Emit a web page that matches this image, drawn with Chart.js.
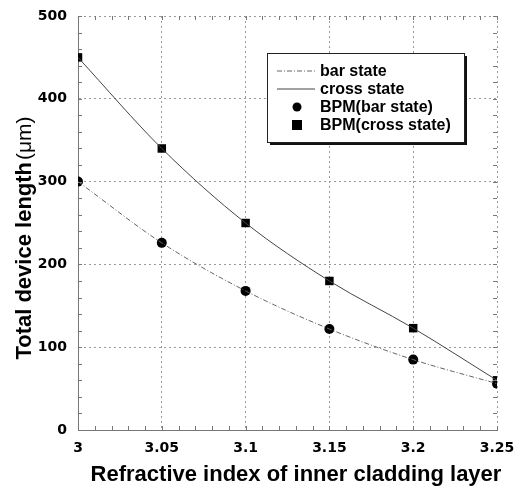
<!DOCTYPE html>
<html><head><meta charset="utf-8">
<script src="https://cdn.jsdelivr.net/npm/chart.js@4.4.0/dist/chart.umd.min.js"></script>
<style>html,body{margin:0;padding:0;background:#fff}#wrap{width:528px;height:490px}</style>
</head><body><div id="wrap"><canvas id="c" width="528" height="490"></canvas></div>
<script>
const xValues = [3, 3.05, 3.1, 3.15, 3.2, 3.25];
const barState = [300, 226, 168, 122, 85, 56];
const crossState = [450, 340, 250, 180, 123, 60];
const seriesLabels = ['bar state', 'cross state', 'BPM(bar state)', 'BPM(cross state)'];
const xTicks = [3, 3.05, 3.1, 3.15, 3.2, 3.25];
const yTicks = [0, 100, 200, 300, 400, 500];
const xTitle = 'Refractive index of inner cladding layer';
const yTitleMain = 'Total device length';
const yTitleUnit = '(μm)';

const pts = a => xValues.map((x, i) => ({x, y: a[i]}));
const FONT = 'DejaVu Sans';

const titlesPlugin = {
  id: 'titles',
  afterDraw(chart) {
    const ctx = chart.ctx;
    ctx.save();
    ctx.fillStyle = '#000';
    ctx.textBaseline = 'middle';
    ctx.textAlign = 'center';
    ctx.font = 'bold 22px "Liberation Sans"';
    ctx.fillText(xTitle, 296, 475);
    ctx.translate(25, 238);
    ctx.rotate(-Math.PI / 2);
    ctx.textAlign = 'left';
    const fMain = 'bold 22px "Liberation Sans"';
    const fUnit = '21px "Liberation Sans"';
    ctx.font = fMain; const w1 = ctx.measureText(yTitleMain).width;
    ctx.font = fUnit; const w2 = ctx.measureText(yTitleUnit).width;
    const start = -(w1 + 2 + w2) / 2;
    ctx.font = fMain; ctx.fillText(yTitleMain, start, 0);
    ctx.font = fUnit; ctx.fillText(yTitleUnit, start + w1 + 2, 0);
    ctx.restore();
  }
};

const legendPlugin = {
  id: 'boxLegend',
  afterDraw(chart) {
    const ctx = chart.ctx;
    const L = 267, T = 53, W = 197, H = 89;
    ctx.save();
    ctx.fillStyle = '#111';
    ctx.fillRect(L + 3, T + 3, W, H);
    ctx.fillStyle = '#fff';
    ctx.fillRect(L, T, W, H);
    ctx.strokeStyle = '#222';
    ctx.lineWidth = 1;
    ctx.strokeRect(L + 0.5, T + 0.5, W, H);
    const rows = [71, 89, 107, 125];
    ctx.font = 'bold 16px "Liberation Sans"';
    ctx.textBaseline = 'middle';
    chart.data.datasets.forEach((ds, i) => {
      const y = rows[i];
      if (ds.showLine !== false && ds.pointRadius === 0) {
        ctx.strokeStyle = ds.borderColor;
        ctx.lineWidth = ds.borderWidth;
        ctx.setLineDash(ds.borderDash || []);
        ctx.beginPath(); ctx.moveTo(277, y); ctx.lineTo(315, y); ctx.stroke();
        ctx.setLineDash([]);
      } else {
        ctx.fillStyle = '#000';
        if (ds.pointStyle === 'rect') {
          ctx.fillRect(297 - 5, y - 5, 10, 10);
        } else {
          ctx.beginPath(); ctx.arc(297, y, 4.5, 0, Math.PI * 2); ctx.fill();
        }
      }
      ctx.fillStyle = '#000';
      ctx.fillText(ds.label, 320, y + 1);
    });
    ctx.restore();
  }
};

const minorTicks = {
  id: 'minorTicks',
  afterDatasetsDraw(chart) {
    const {ctx, chartArea: a, scales: {x, y}} = chart;
    ctx.save();
    ctx.strokeStyle = '#777'; ctx.lineWidth = 1;
    ctx.beginPath();
    for (let v = 3; v <= 3.2501; v += 0.01) {
      const px = Math.round(x.getPixelForValue(v)) + 0.5;
      ctx.moveTo(px, a.bottom); ctx.lineTo(px, a.bottom - 4);
      ctx.moveTo(px, a.top); ctx.lineTo(px, a.top + 4);
    }
    for (let v = 0; v <= 500; v += 20) {
      const py = Math.round(y.getPixelForValue(v)) + 0.5;
      ctx.moveTo(a.left, py); ctx.lineTo(a.left + 4, py);
      ctx.moveTo(a.right, py); ctx.lineTo(a.right - 4, py);
    }
    ctx.stroke();
    ctx.restore();
  }
};

new Chart(document.getElementById('c'), {
  type: 'scatter',
  data: {
    datasets: [
      {label: seriesLabels[0], data: pts(barState), showLine: true, pointRadius: 0,
       borderColor: '#666', borderWidth: 1, borderDash: [5, 2, 1, 2], cubicInterpolationMode: 'monotone'},
      {label: seriesLabels[1], data: pts(crossState), showLine: true, pointRadius: 0,
       borderColor: '#444', borderWidth: 1, cubicInterpolationMode: 'monotone'},
      {label: seriesLabels[2], data: pts(barState), pointStyle: 'circle', pointRadius: 5,
       backgroundColor: '#000', borderColor: '#000', borderWidth: 0},
      {label: seriesLabels[3], data: pts(crossState), pointStyle: 'rect', pointRadius: 6,
       backgroundColor: '#000', borderColor: '#000', borderWidth: 0}
    ]
  },
  options: {
    responsive: false, animation: false,
    layout: {autoPadding: false, padding: {top: 16, right: 31, left: 0, bottom: 0}},
    plugins: {legend: {display: false}, tooltip: {enabled: false}},
    scales: {
      x: {
        type: 'linear', min: 3, max: 3.25,
        afterBuildTicks: s => { s.ticks = xTicks.map(v => ({value: v})); },
        afterFit: s => { s.height = 60; s.paddingLeft = 0; s.paddingRight = 0; },
        grid: {color: '#999', lineWidth: 1, drawTicks: false},
        border: {display: true, color: '#777', dash: [2, 3]},
        ticks: {color: '#000', font: {family: FONT, weight: 'bold', size: 14}, padding: 10,
                callback: v => String(v)},
        title: {display: false}
      },
      y: {
        min: 0, max: 500,
        afterBuildTicks: s => { s.ticks = yTicks.map(v => ({value: v})); },
        afterFit: s => { s.width = 78; s.paddingTop = 0; s.paddingBottom = 0; },
        grid: {color: '#999', lineWidth: 1, drawTicks: false},
        border: {display: true, color: '#777', dash: [2, 3]},
        ticks: {color: '#000', font: {family: FONT, weight: 'bold', size: 14}, padding: 11},
        title: {display: false}
      }
    }
  },
  plugins: [minorTicks, legendPlugin, titlesPlugin]
});
</script></body></html>
